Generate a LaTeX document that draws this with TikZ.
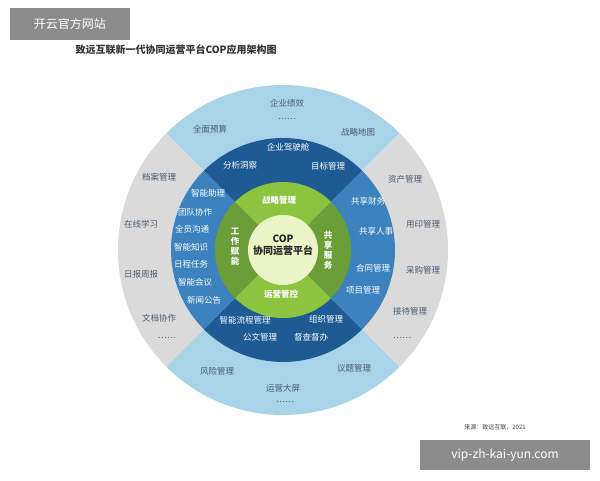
\documentclass[tikz,border=0pt]{standalone}
\usepackage{fontspec}
\setmainfont{Noto Sans CJK SC}
\definecolor{lb}{HTML}{A9D3E8}
\definecolor{gr}{HTML}{DADADA}
\definecolor{db}{HTML}{1E5A93}
\definecolor{mb}{HTML}{3B82BE}
\definecolor{lg}{HTML}{8DC43F}
\definecolor{dg}{HTML}{6A9E38}
\definecolor{cc}{HTML}{EAF4C6}
\definecolor{ot}{HTML}{4A5C70}
\begin{document}
\begin{tikzpicture}[x=1pt,y=-1pt,
 ol/.style={font=\fontsize{8.5}{9}\selectfont,text=ot},
 bl/.style={font=\fontsize{8.5}{9}\selectfont,text=white},
 gl/.style={font=\fontsize{8.5}{9}\selectfont\bfseries,text=white},
 vl/.style={font=\fontsize{8.5}{10}\selectfont\bfseries,text=white,align=center}]
\useasboundingbox (0,0) rectangle (600,480);
\fill[white] (0,0) rectangle (600,480);
\coordinate (c) at (283,250);
% outer ring
\fill[lb] (c) -- ++(45:165) arc[start angle=45,end angle=135,radius=165] -- cycle;
\fill[lb] (c) -- ++(225:165) arc[start angle=225,end angle=315,radius=165] -- cycle;
\fill[gr] (c) -- ++(135:165) arc[start angle=135,end angle=225,radius=165] -- cycle;
\fill[gr] (c) -- ++(-45:165) arc[start angle=-45,end angle=45,radius=165] -- cycle;
% blue ring
\fill[db] (c) -- ++(45:112) arc[start angle=45,end angle=135,radius=112] -- cycle;
\fill[db] (c) -- ++(225:112) arc[start angle=225,end angle=315,radius=112] -- cycle;
\fill[mb] (c) -- ++(135:112) arc[start angle=135,end angle=225,radius=112] -- cycle;
\fill[mb] (c) -- ++(-45:112) arc[start angle=-45,end angle=45,radius=112] -- cycle;
% green ring
\fill[lg] (c) -- ++(45:68) arc[start angle=45,end angle=135,radius=68] -- cycle;
\fill[lg] (c) -- ++(225:68) arc[start angle=225,end angle=315,radius=68] -- cycle;
\fill[dg] (c) -- ++(135:68) arc[start angle=135,end angle=225,radius=68] -- cycle;
\fill[dg] (c) -- ++(-45:68) arc[start angle=-45,end angle=45,radius=68] -- cycle;
\fill[cc] (c) circle[radius=35];
\node[font=\fontsize{10}{12}\selectfont\bfseries,align=center,text=black!85] (ctr) at (283,245) {COP\\协同运营平台};
% green labels
\node[gl] (g1) at (279,200) {战略管理};
\node[gl] (g2) at (281,294) {运营管控};
\node[vl] (g3) at (235,247) {工\\作\\赋\\能};
\node[vl] (g4) at (328,250) {共\\享\\服\\务};
% blue labels
\node[bl] (b1) at (288,147) {企业驾驶舱};
\node[bl] (b2) at (240,165) {分析洞察};
\node[bl] (b3) at (328,166) {目标管理};
\node[bl] (b4) at (208,193) {智能助理};
\node[bl] (b5) at (195,212) {团队协作};
\node[bl] (b6) at (192,229) {全员沟通};
\node[bl] (b7) at (191,247) {智能知识};
\node[bl] (b8) at (191,264) {日程任务};
\node[bl] (b9) at (195,282) {智能会议};
\node[bl] (b10) at (204,300) {新闻公告};
\node[bl] (b11) at (368,201) {共享财务};
\node[bl] (b12) at (376,231) {共享人事};
\node[bl] (b13) at (373,268) {合同管理};
\node[bl] (b14) at (363,290) {项目管理};
\node[bl] (b15) at (245,320) {智能流程管理};
\node[bl] (b16) at (326,319) {组织管理};
\node[bl] (b17) at (260,337) {公文管理};
\node[bl] (b18) at (311,337) {督查督办};
% outer labels
\node[ol] (o1) at (287,103) {企业绩效};
\node[ol] (o2) at (287,119) {……};
\node[ol] (o3) at (210,129) {全面预算};
\node[ol] (o4) at (358,132) {战略地图};
\node[ol] (o5) at (159,177) {档案管理};
\node[ol] (o6) at (141,224) {在线学习};
\node[ol] (o7) at (141,274) {日报周报};
\node[ol] (o8) at (159,318) {文档协作};
\node[ol] (o9) at (167,338) {……};
\node[ol] (o10) at (405,179) {资产管理};
\node[ol] (o11) at (423,224) {用印管理};
\node[ol] (o12) at (423,270) {采购管理};
\node[ol] (o13) at (410,311) {接待管理};
\node[ol] (o14) at (402,338) {……};
\node[ol] (o15) at (217,371) {风险管理};
\node[ol] (o16) at (283,388) {运营大屏};
\node[ol] (o17) at (285,402) {……};
\node[ol] (o18) at (354,368) {议题管理};
% title and notes
\node[font=\fontsize{10}{11}\selectfont\bfseries,text=black!80,anchor=west] (title) at (72,50) {致远互联新一代协同运营平台COP应用架构图};
\node[font=\fontsize{6}{7}\selectfont,text=black!75] (src) at (495,427) {来源：致远互联，2021};
\fill[black!45] (10,8) rectangle (130,40);
\node[font=\fontsize{12}{14}\selectfont,text=white] (wm1) at (70,24) {开云官方网站};
\fill[black!45] (420,440) rectangle (590,470);
\node[font=\fontsize{12}{14}\selectfont,text=white] (wm2) at (505,455) {vip-zh-kai-yun.com};
\end{tikzpicture}
\end{document}
